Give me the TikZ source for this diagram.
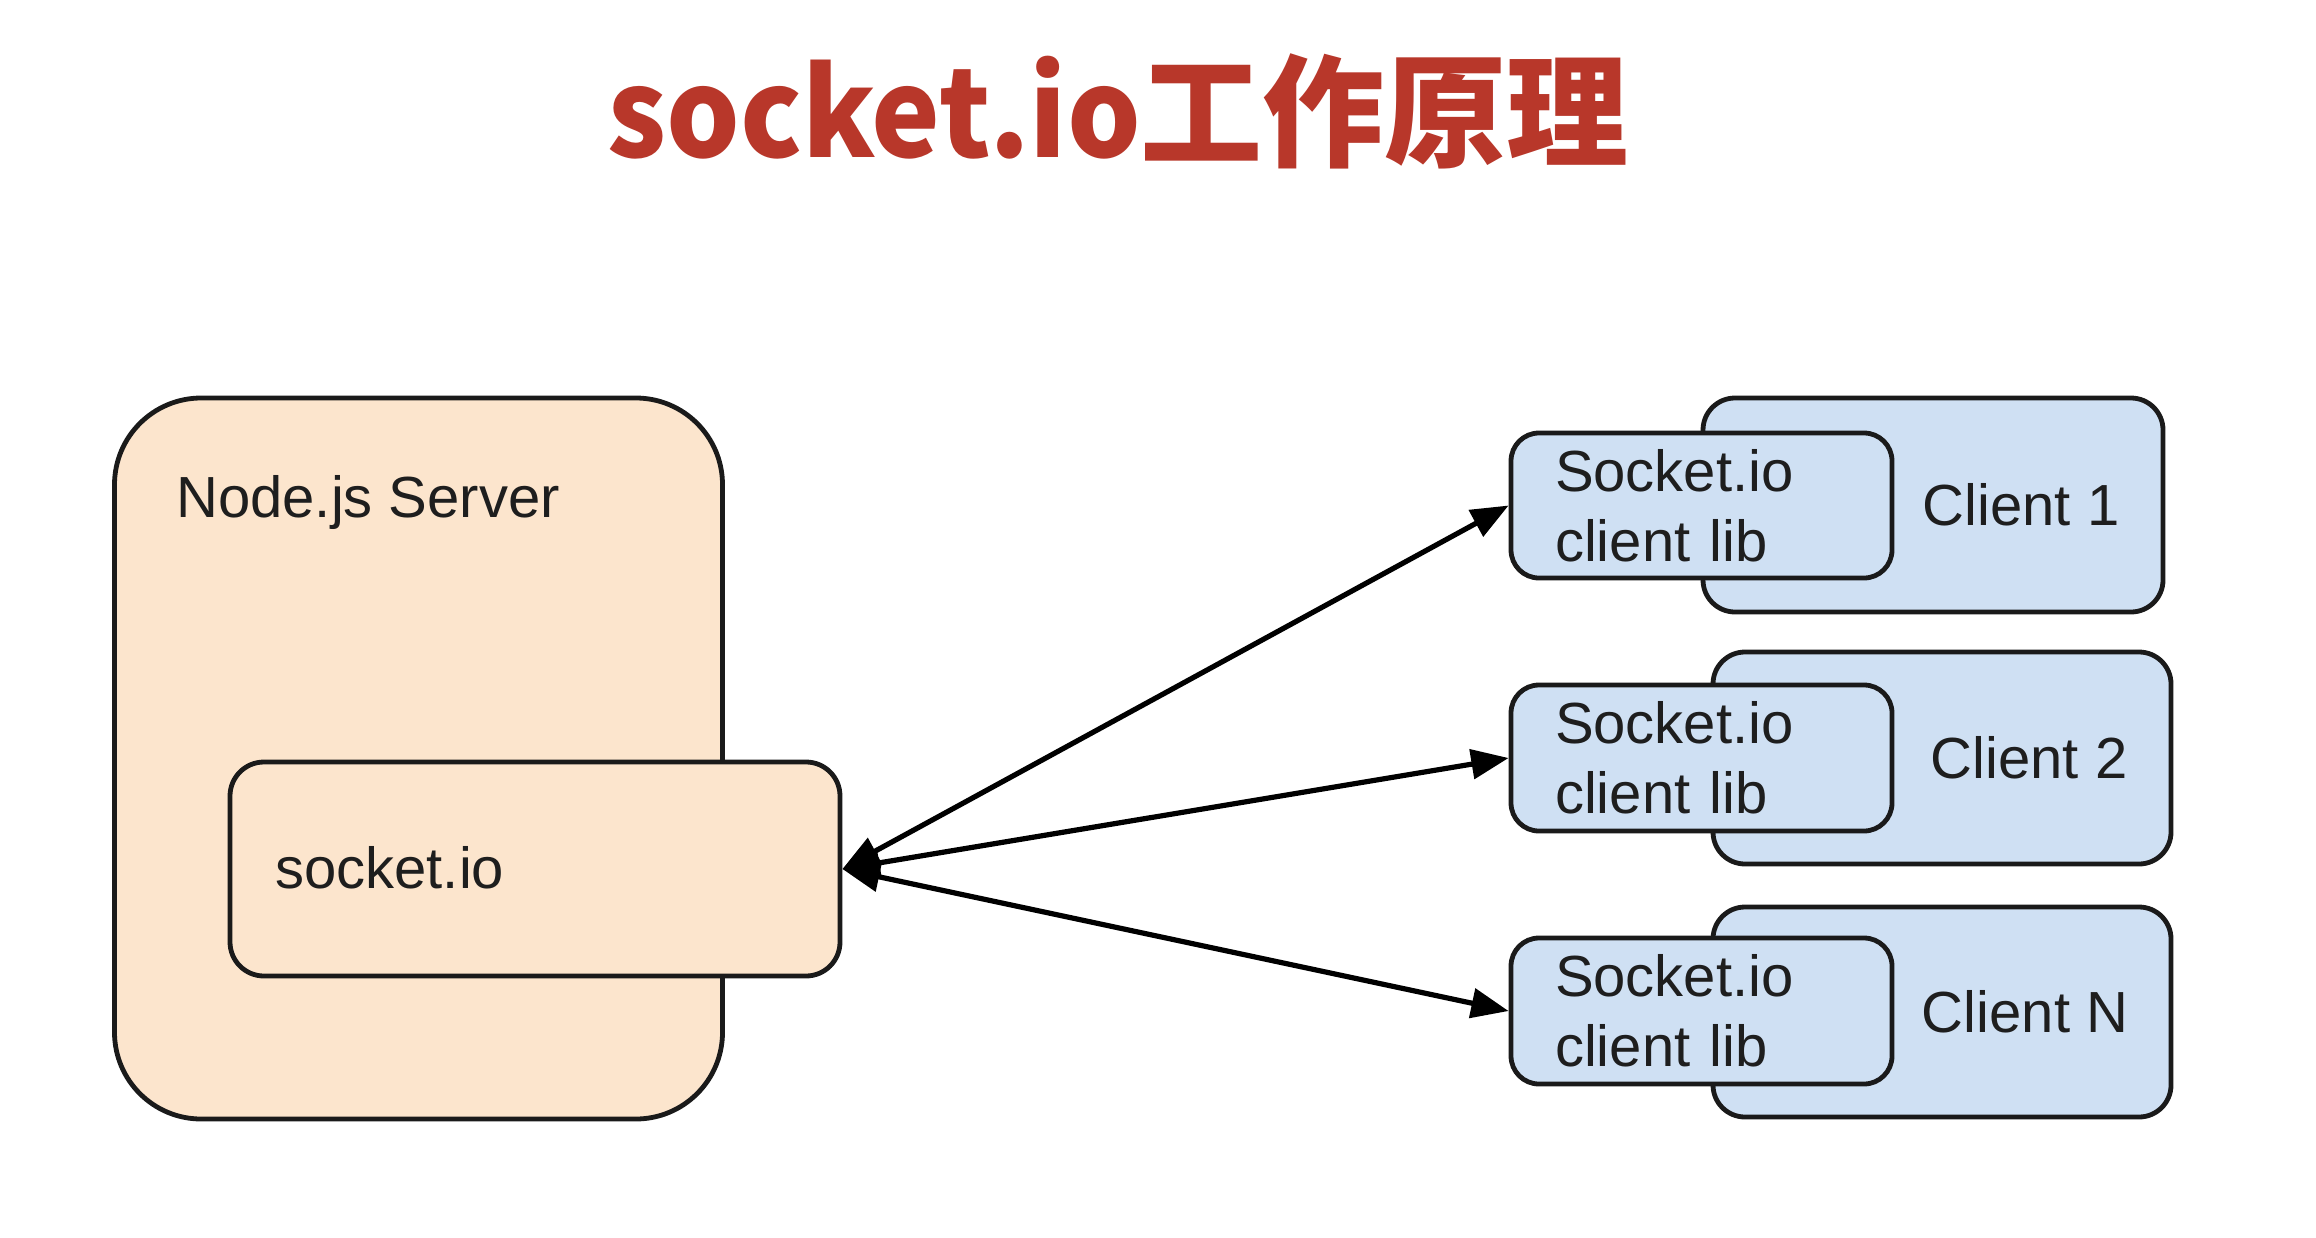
\documentclass[tikz,border=0pt]{standalone}
\usepackage{fontspec}
\setmainfont{Liberation Sans}
\newfontfamily\cjk{Noto Sans CJK SC}
\newfontfamily\cjklat{Noto Sans CJK SC}[FakeStretch=0.95]
\usetikzlibrary{arrows.meta}
\definecolor{srvfill}{HTML}{FCE5CD}
\definecolor{clifill}{HTML}{CFE0F3}
\definecolor{bord}{HTML}{1A1A1A}
\definecolor{txt}{HTML}{1E1E1E}
\definecolor{ttl}{HTML}{B8372A}
\tikzset{
  box/.style={draw=bord, line width=3.6pt, inner sep=0pt},
  srvbox/.style={box, fill=srvfill},
  clibox/.style={box, fill=clifill},
  lbl/.style={text=txt, font=\fontsize{43.5pt}{52.5pt}\selectfont, inner sep=0pt},
  conn/.style={draw=black, line width=3.9pt,
    {Triangle[length=28pt,width=22pt]}-{Triangle[length=28pt,width=22pt]}},
}
\begin{document}
\begin{tikzpicture}[x=0.75pt,y=-0.75pt]
\useasboundingbox[fill=white] (0,0) rectangle (2316,1238);
% title
\node[anchor=base, text=ttl, inner sep=0pt, font=\cjk\bfseries\fontsize{91.5pt}{100pt}\selectfont] (title) at (1118,157) {{\cjklat\bfseries socket.io}工作原理};
% server
\node[srvbox, rounded corners=65pt, minimum width=456pt, minimum height=540.75pt] (server) at (418.5,758.5) {};
\node[lbl, anchor=base west] (serverlbl) at (176,517) {Node.js Server};
\node[srvbox, rounded corners=25.5pt, minimum width=457.5pt, minimum height=160.5pt] (sock) at (535,869) {};
\node[lbl, anchor=base west] (socklbl) at (275,888) {socket.io};
% clients
\node[clibox, rounded corners=24pt, minimum width=345pt, minimum height=160.5pt] (c1) at (1933,505) {};
\node[clibox, rounded corners=21pt, minimum width=285.75pt, minimum height=108.75pt, lbl, align=left, text width=219.75pt] (lib1) at (1701.5,505.5) {Socket.io\\client lib};
\node[lbl] (c1lbl) at (2021,505) {Client 1};

\node[clibox, rounded corners=24pt, minimum width=343.5pt, minimum height=159pt] (c2) at (1942,758) {};
\node[clibox, rounded corners=21pt, minimum width=285.75pt, minimum height=109.5pt, lbl, align=left, text width=219.75pt] (lib2) at (1701.5,758) {Socket.io\\client lib};
\node[lbl] (c2lbl) at (2029,758) {Client 2};

\node[clibox, rounded corners=24pt, minimum width=343.5pt, minimum height=157.5pt] (cN) at (1942,1012) {};
\node[clibox, rounded corners=21pt, minimum width=285.75pt, minimum height=109.5pt, lbl, align=left, text width=219.75pt] (libN) at (1701.5,1011) {Socket.io\\client lib};
\node[lbl] (cNlbl) at (2025,1012) {Client N};
% connectors
\draw[conn] (sock.east) -- (lib1.west);
\draw[conn] (sock.east) -- (lib2.west);
\draw[conn] (sock.east) -- (libN.west);
\end{tikzpicture}
\end{document}
